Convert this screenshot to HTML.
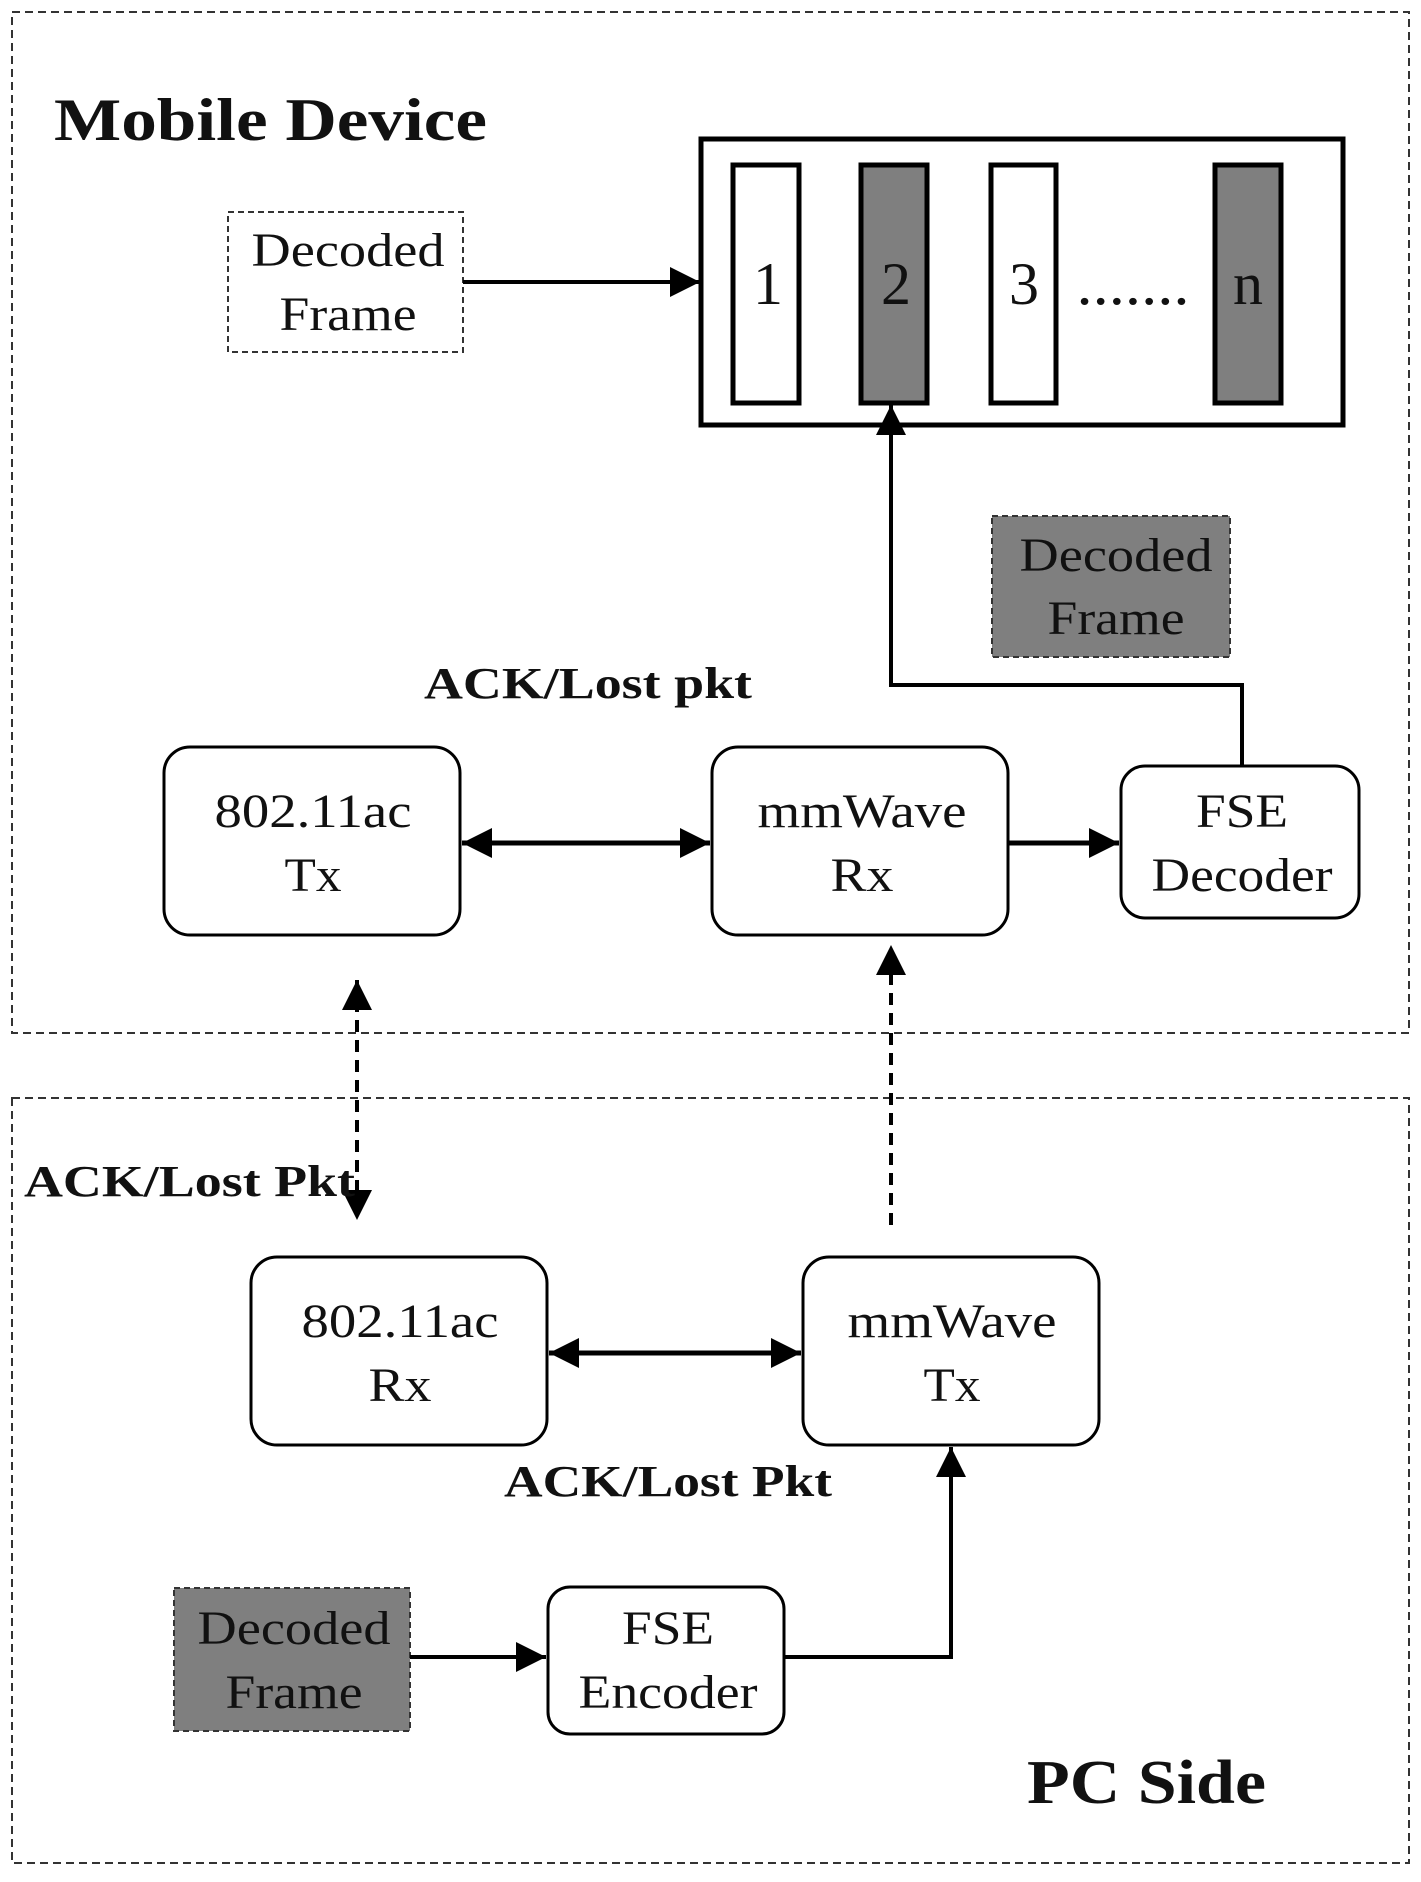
<!DOCTYPE html>
<html><head><meta charset="utf-8"><style>
html,body{margin:0;padding:0;background:#fff;}
svg{display:block;}
text{font-family:"Liberation Serif",serif;fill:#111;}
.b{font-size:48px;text-anchor:middle;}
.l{font-size:44px;font-weight:bold;}
</style></head><body>
<svg width="1421" height="1882" viewBox="0 0 1421 1882" xmlns="http://www.w3.org/2000/svg">
<defs>
<marker id="A" viewBox="0 0 10 10" refX="10" refY="5" markerWidth="30" markerHeight="30" orient="auto-start-reverse" markerUnits="userSpaceOnUse">
<path d="M0,0 L10,5 L0,10 z" fill="#000"/></marker>
</defs>
<rect x="12" y="12" width="1397" height="1021" fill="none" stroke="#333" stroke-width="2" stroke-dasharray="8,5"/>
<rect x="12" y="1098" width="1397" height="765" fill="none" stroke="#333" stroke-width="2" stroke-dasharray="8,5"/>
<text x="54" y="140" style="font-size:60px;font-weight:bold;" textLength="433" lengthAdjust="spacingAndGlyphs">Mobile Device</text>
<text x="1027" y="1803" style="font-size:62px;font-weight:bold;" textLength="239" lengthAdjust="spacingAndGlyphs">PC Side</text>

<rect x="228" y="212" width="235" height="140" fill="#fff" stroke="#333" stroke-width="2" stroke-dasharray="6,4"/>
<text class="b" x="348" y="266" textLength="193" lengthAdjust="spacingAndGlyphs">Decoded</text>
<text class="b" x="348" y="330" textLength="137" lengthAdjust="spacingAndGlyphs">Frame</text>
<line x1="463" y1="282" x2="700" y2="282" stroke="#000" stroke-width="4" marker-end="url(#A)"/>

<rect x="701" y="139" width="642" height="286" fill="#fff" stroke="#000" stroke-width="5"/>
<rect x="733" y="165" width="66" height="238" fill="#fff" stroke="#000" stroke-width="5"/>
<rect x="861" y="165" width="66" height="238" fill="#7f7f7f" stroke="#000" stroke-width="5"/>
<rect x="991" y="165" width="65" height="238" fill="#fff" stroke="#000" stroke-width="5"/>
<rect x="1215" y="165" width="66" height="238" fill="#7f7f7f" stroke="#000" stroke-width="5"/>
<text class="b" x="768" y="304" style="font-size:60px">1</text>
<text class="b" x="896" y="304" style="font-size:60px">2</text>
<text class="b" x="1024" y="304" style="font-size:60px">3</text>
<text class="b" x="1133" y="304" style="font-size:60px" textLength="113" lengthAdjust="spacingAndGlyphs">.......</text>
<text class="b" x="1248" y="304" style="font-size:60px">n</text>

<rect x="992" y="516" width="238" height="141" fill="#7f7f7f" stroke="#333" stroke-width="2" stroke-dasharray="6,4"/>
<text class="b" x="1116" y="571" textLength="193" lengthAdjust="spacingAndGlyphs">Decoded</text>
<text class="b" x="1116" y="634" textLength="137" lengthAdjust="spacingAndGlyphs">Frame</text>

<text class="l" x="424" y="698" textLength="328" lengthAdjust="spacingAndGlyphs">ACK/Lost pkt</text>

<rect x="164" y="747" width="296" height="188" rx="26" fill="#fff" stroke="#000" stroke-width="3"/>
<text class="b" x="313" y="827" textLength="197" lengthAdjust="spacingAndGlyphs">802.11ac</text>
<text class="b" x="313" y="891" textLength="57" lengthAdjust="spacingAndGlyphs">Tx</text>
<rect x="712" y="747" width="296" height="188" rx="26" fill="#fff" stroke="#000" stroke-width="3"/>
<text class="b" x="862" y="827" textLength="209" lengthAdjust="spacingAndGlyphs">mmWave</text>
<text class="b" x="862" y="891" textLength="63" lengthAdjust="spacingAndGlyphs">Rx</text>
<rect x="1121" y="766" width="238" height="152" rx="24" fill="#fff" stroke="#000" stroke-width="3"/>
<text class="b" x="1242" y="827" textLength="92" lengthAdjust="spacingAndGlyphs">FSE</text>
<text class="b" x="1242" y="891" textLength="181" lengthAdjust="spacingAndGlyphs">Decoder</text>

<line x1="462" y1="843" x2="710" y2="843" stroke="#000" stroke-width="5" marker-start="url(#A)" marker-end="url(#A)"/>
<line x1="1008" y1="843" x2="1119" y2="843" stroke="#000" stroke-width="5" marker-end="url(#A)"/>
<polyline points="1242,766 1242,685 891,685 891,405" fill="none" stroke="#000" stroke-width="4" marker-end="url(#A)"/>

<line x1="357" y1="980" x2="357" y2="1220" stroke="#000" stroke-width="4" stroke-dasharray="12,8" marker-start="url(#A)" marker-end="url(#A)"/>
<line x1="891" y1="1225" x2="891" y2="945" stroke="#000" stroke-width="4" stroke-dasharray="12,8" marker-end="url(#A)"/>

<text class="l" x="24" y="1196" textLength="331" lengthAdjust="spacingAndGlyphs">ACK/Lost Pkt</text>

<rect x="251" y="1257" width="296" height="188" rx="26" fill="#fff" stroke="#000" stroke-width="3"/>
<text class="b" x="400" y="1337" textLength="197" lengthAdjust="spacingAndGlyphs">802.11ac</text>
<text class="b" x="400" y="1401" textLength="63" lengthAdjust="spacingAndGlyphs">Rx</text>
<rect x="803" y="1257" width="296" height="188" rx="26" fill="#fff" stroke="#000" stroke-width="3"/>
<text class="b" x="952" y="1337" textLength="209" lengthAdjust="spacingAndGlyphs">mmWave</text>
<text class="b" x="952" y="1401" textLength="57" lengthAdjust="spacingAndGlyphs">Tx</text>
<line x1="549" y1="1353" x2="801" y2="1353" stroke="#000" stroke-width="5" marker-start="url(#A)" marker-end="url(#A)"/>

<text class="l" x="504" y="1496" textLength="328" lengthAdjust="spacingAndGlyphs">ACK/Lost Pkt</text>

<rect x="174" y="1588" width="236" height="143" fill="#7f7f7f" stroke="#333" stroke-width="2" stroke-dasharray="6,4"/>
<text class="b" x="294" y="1644" textLength="193" lengthAdjust="spacingAndGlyphs">Decoded</text>
<text class="b" x="294" y="1708" textLength="137" lengthAdjust="spacingAndGlyphs">Frame</text>
<rect x="548" y="1587" width="236" height="147" rx="22" fill="#fff" stroke="#000" stroke-width="3"/>
<text class="b" x="668" y="1644" textLength="92" lengthAdjust="spacingAndGlyphs">FSE</text>
<text class="b" x="668" y="1708" textLength="179" lengthAdjust="spacingAndGlyphs">Encoder</text>
<line x1="410" y1="1657" x2="546" y2="1657" stroke="#000" stroke-width="4" marker-end="url(#A)"/>
<polyline points="784,1657 951,1657 951,1447" fill="none" stroke="#000" stroke-width="4" marker-end="url(#A)"/>
</svg>
</body></html>
